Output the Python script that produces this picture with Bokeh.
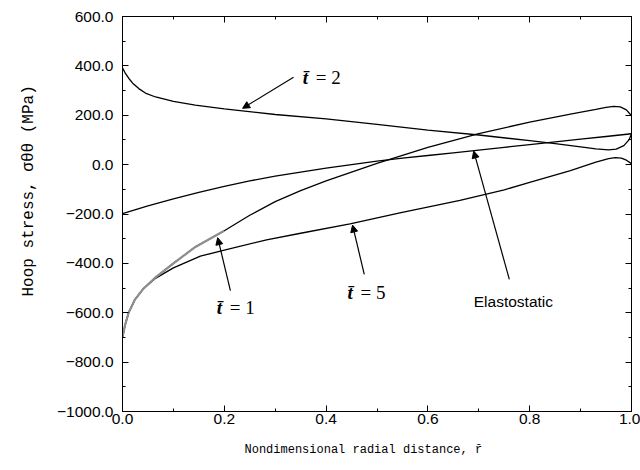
from bokeh.plotting import figure
from bokeh.models import (SingleIntervalTicker, LinearAxis, CustomJSTickFormatter,
                          Title, Arrow, NormalHead)
from bokeh.core.properties import value
from bokeh.embed import file_html
from bokeh.resources import INLINE

# ---- data ----
r_t1 = [0, 0.005, 0.012, 0.024, 0.04, 0.063, 0.1, 0.142, 0.2, 0.25, 0.3, 0.35, 0.4,
        0.5, 0.6, 0.7, 0.8, 0.88, 0.93, 0.95, 0.965, 0.978, 0.99, 1.0]
s_t1 = [-700, -650, -600, -548, -505, -460, -400, -335, -268, -205, -150, -105, -66,
        5, 70, 126, 172, 205, 224, 232, 236, 234, 222, 198]

r_t5 = [0, 0.005, 0.012, 0.024, 0.04, 0.063, 0.1, 0.153, 0.2, 0.283, 0.35, 0.447,
        0.545, 0.663, 0.75, 0.8, 0.88, 0.93, 0.955, 0.968, 0.98, 0.99, 1.0]
s_t5 = [-700, -650, -600, -548, -505, -463, -418, -371, -346, -305, -278, -240,
        -195, -145, -102, -72, -24, 10, 24, 28, 26, 18, 4]

r_t2 = [0, 0.005, 0.0125, 0.02, 0.032, 0.045, 0.065, 0.1, 0.143, 0.2, 0.3, 0.4, 0.5,
        0.6, 0.7, 0.8, 0.85, 0.9, 0.93, 0.955, 0.97, 0.985, 0.995, 1.0]
s_t2 = [392, 372, 349, 330, 308, 290, 274, 256, 241, 226, 203, 185, 163,
        140, 120, 97, 85, 72, 64, 60, 63, 77, 100, 125]

r_el = [0, 0.05, 0.1, 0.15, 0.2, 0.25, 0.3, 0.35, 0.4, 0.45, 0.5, 0.55, 0.6, 0.65,
        0.7, 0.75, 0.8, 0.85, 0.9, 0.95, 1.0]
s_el = [-198, -167, -139, -112, -88, -66, -47, -30, -14, 0, 14, 26, 37, 48,
        59, 70, 81, 92, 103, 114, 125]

# annotation anchors (data units)
tbar_labels = ["= 2", "= 1", "= 5"]
tbar_r = [0.354, 0.185, 0.442]
tbar_s = [354, -578, -518]
arrow_r0 = [0.336, 0.212, 0.475, 0.760]
arrow_s0 = [354, -510, -445, -465]
arrow_r1 = [0.236, 0.187, 0.452, 0.690]
arrow_s1 = [228, -296, -245, 55]
elast_text = "Elastostatic"
elast_r, elast_s = 0.768, -554

x_label = "Nondimensional radial distance, r\u0304"
y_label = "Hoop stress, \u03c3\u03b8\u03b8 (MPa)"

p = figure(width=640, height=470, x_range=(0, 1), y_range=(-1000, 600),
           output_backend="svg", toolbar_location=None,
           min_border_left=122, min_border_right=9, min_border_top=16,
           min_border_bottom=58)
p.background_fill_color = "white"
p.border_fill_color = "white"
p.outline_line_color = "black"
p.outline_line_width = 1
p.xgrid.visible = False
p.ygrid.visible = False

fmt = CustomJSTickFormatter(code="return (tick < -1e-9 ? '\u2212' : '') + Math.abs(tick).toFixed(1);")

def style_axis(ax, labels=True):
    ax.axis_line_color = "black"
    ax.major_tick_line_color = "black"
    ax.minor_tick_line_color = "black"
    ax.major_tick_in = 6
    ax.major_tick_out = 0
    ax.minor_tick_in = 3
    ax.minor_tick_out = 0
    if labels:
        ax.major_label_text_font = "Liberation Sans"
        ax.major_label_text_font_size = "15.5px"
        ax.major_label_text_color = "black"
        ax.formatter = fmt
    else:
        ax.major_label_text_font_size = "0px"
        ax.major_label_text_color = None

p.xaxis.ticker = SingleIntervalTicker(interval=0.2, num_minor_ticks=2)
p.yaxis.ticker = SingleIntervalTicker(interval=200, num_minor_ticks=2)
style_axis(p.xaxis[0])
style_axis(p.yaxis[0])
p.xaxis.major_label_standoff = 2
p.yaxis.major_label_standoff = 9

top = LinearAxis(ticker=SingleIntervalTicker(interval=0.2, num_minor_ticks=2))
style_axis(top, labels=False)
right = LinearAxis(ticker=SingleIntervalTicker(interval=200, num_minor_ticks=2))
style_axis(right, labels=False)
p.add_layout(top, "above")
p.add_layout(right, "right")

lw = 1.3
p.line(r_t2, s_t2, line_color="black", line_width=lw)
p.line(r_el, s_el, line_color="black", line_width=lw)
p.line(r_t5, s_t5, line_color="black", line_width=lw)
p.line(r_t1, s_t1, line_color="black", line_width=lw)
n_grey = r_t1.index(0.2) + 1
p.line(r_t1[:n_grey], s_t1[:n_grey], line_color="#8f8f8f", line_width=2.2)

for x0, y0, x1, y1 in zip(arrow_r0, arrow_s0, arrow_r1, arrow_s1):
    p.add_layout(Arrow(end=NormalHead(size=7, fill_color="black", line_color="black"),
                       x_start=x0, y_start=y0, x_end=x1, y_end=y1,
                       line_color="black", line_width=1.2))

p.text(x=tbar_r, y=tbar_s, text=["t\u0304"] * 3, text_font=value("Liberation Serif"),
       text_font_style="bold italic", text_font_size="19px", text_align="left",
       text_baseline="middle", text_color="black")
p.text(x=tbar_r, y=tbar_s, text=tbar_labels, text_font=value("Liberation Serif"),
       text_font_size="19px", text_align="left", text_baseline="middle",
       text_color="black", x_offset=13)
p.text(x=[elast_r], y=[elast_s], text=[elast_text], text_font=value("Liberation Sans"),
       text_font_size="15.5px", text_align="center", text_baseline="middle",
       text_color="black")

# axis titles as side Titles, left-aligned with an offset to sit off-centre like the reference
mono = "Liberation Mono"
p.add_layout(Title(text=y_label, align="left", offset=115, standoff=34,
                   text_font=mono, text_font_size="16px", text_font_style="normal",
                   text_color="black"), "left")
p.add_layout(Title(text=x_label, align="left", offset=122, standoff=28,
                   text_font=mono, text_font_size="12px", text_font_style="normal",
                   text_color="black"), "below")

open("out.html", "w").write(file_html(p, INLINE))
